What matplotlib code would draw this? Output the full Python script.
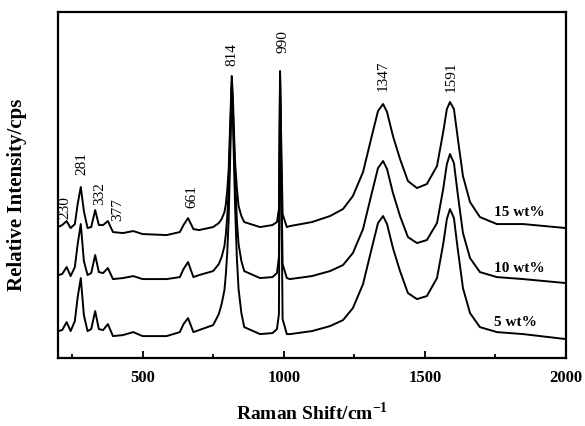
import matplotlib
matplotlib.use("Agg")
import matplotlib.pyplot as plt
from matplotlib.ticker import MultipleLocator

plt.rcParams['font.family'] = ['Liberation Serif', 'DejaVu Serif']
plt.rcParams['mathtext.fontset'] = 'custom'
plt.rcParams['mathtext.rm'] = 'Liberation Serif'
plt.rcParams['mathtext.bf'] = 'Liberation Serif:bold'

# Raman shift (cm-1), shared by the three spectra
shift = [200, 215, 231, 245, 260, 270, 281, 292, 305, 318, 332, 345, 360, 377, 395,
         430, 467, 500, 585, 632, 645, 661, 680,
         700, 750, 770, 780, 790, 795, 800, 805, 808, 812, 816, 820, 824, 828, 834,
         840, 850, 860, 916, 960, 976, 983, 987, 991, 996, 1011,
         1022, 1100, 1164, 1210, 1245, 1281, 1312, 1334, 1352, 1366, 1387, 1412, 1440,
         1472, 1507, 1543, 1565, 1578, 1589, 1603, 1617, 1635, 1660, 1695, 1755, 1848, 2000]

# relative intensity (arbitrary units, curves already stacked)
wt15 = [131, 133, 137, 130, 134, 154, 171, 147, 130, 131, 148, 133, 133, 137, 126,
        125, 127, 124, 123, 126, 133, 140, 129,
        128, 131, 135, 139, 146, 154, 168, 189, 215, 249, 282, 259, 225, 194, 170,
        152, 142, 136, 131, 133, 136, 149, 287, 219, 144, 131,
        132, 136, 142, 149, 162, 186, 222, 247, 254, 246, 222, 199, 177,
        170, 174, 192, 226, 249, 256, 249, 219, 182, 156, 141, 134, 134, 130]
wt10 = [83, 84, 91, 82, 91, 114, 134, 97, 83, 85, 103, 86, 85, 90, 79,
        80, 82, 79, 79, 81, 89, 96, 81,
        83, 87, 94, 101, 112, 124, 142, 169, 200, 239, 277, 249, 212, 179, 138,
        114, 97, 87, 80, 81, 85, 101, 283, 199, 94, 80,
        79, 82, 87, 93, 105, 129, 165, 190, 197, 189, 165, 142, 121,
        115, 118, 135, 169, 194, 204, 195, 163, 125, 100, 86, 81, 79, 75]
wt5 = [27, 28, 36, 27, 37, 61, 80, 43, 27, 29, 47, 29, 28, 34, 22,
       23, 26, 22, 22, 26, 34, 40, 26,
       28, 33, 44, 54, 68, 84, 106, 139, 175, 219, 271, 239, 192, 149, 100,
       69, 45, 31, 24, 25, 29, 44, 279, 189, 39, 24,
       24, 27, 32, 38, 50, 74, 110, 135, 142, 134, 110, 87, 65,
       59, 62, 80, 114, 139, 149, 140, 108, 70, 45, 31, 26, 24, 19]

peak_labels = ["230", "281", "332", "377", "661", "814", "990", "1347", "1591"]
peak_x = [225, 285, 349, 413, 675, 816, 997, 1351, 1592]
peak_y = [151, 195, 165, 149, 162, 304, 317, 283, 282]

series_labels = ["15 wt%", "10 wt%", "5 wt%"]
series_y = [147, 91, 37]

fig = plt.figure(figsize=(5.85, 4.27), dpi=100)
ax = fig.add_axes([0.099, 0.159, 0.8685, 0.8106])

for y in (wt15, wt10, wt5):
    ax.plot(shift, y, color='black', lw=1.4)

for lab, x, y in zip(peak_labels, peak_x, peak_y):
    ax.text(x, y, lab, rotation=90, ha='center', va='center', fontsize=11)

for lab, y in zip(series_labels, series_y):
    ax.text(1745, y, lab, ha='left', va='center', fontsize=11, fontweight='bold')

ax.set_xlim(200, 2000)
ax.set_ylim(0, 346)
ax.xaxis.set_major_locator(MultipleLocator(500))
ax.xaxis.set_minor_locator(MultipleLocator(250))
ax.tick_params(axis='x', which='both', direction='in', width=1.3)
ax.tick_params(axis='x', which='major', length=5, labelsize=12, pad=8)
ax.tick_params(axis='x', which='minor', length=3)
ax.set_yticks([])
for lbl in ax.get_xticklabels():
    lbl.set_fontweight('bold')
for s in ax.spines.values():
    s.set_linewidth(1.6)

ax.set_xlabel(r"Raman Shift/cm$^{\mathbf{-1}}$", fontsize=14, fontweight='bold', labelpad=11)
ax.set_ylabel("Relative Intensity/cps", fontsize=15, fontweight='bold')
ax.yaxis.set_label_coords(-0.061, 0.474)

fig.savefig("out.png", dpi=100)
